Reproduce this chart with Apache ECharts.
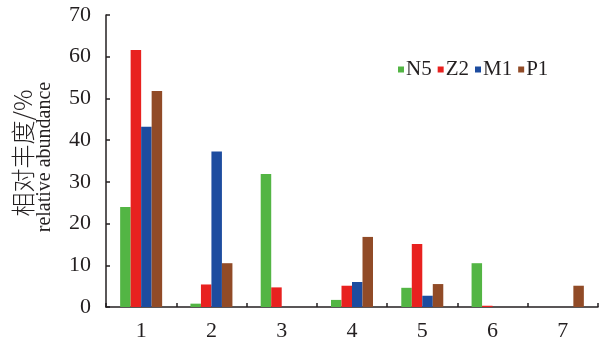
<!DOCTYPE html>
<html><head><meta charset="utf-8">
<script src="https://cdn.jsdelivr.net/npm/echarts@6/dist/echarts.min.js"></script>
<style>html,body{margin:0;padding:0;background:#fff}#c{width:600px;height:344px}</style>
</head><body><div id="c"></div>
<script>
const categories = ['1','2','3','4','5','6','7'];
const seriesNames = ['N5','Z2','M1','P1'];
const N5 = [24.0, 0.8, 31.9, 1.7, 4.6, 10.5, 0];
const Z2 = [61.6, 5.4, 4.7, 5.1, 15.1, 0.3, 0];
const M1 = [43.2, 37.3, 0, 6.0, 2.7, 0, 0];
const P1 = [51.8, 10.5, 0, 16.8, 5.5, 0, 5.1];
const yTicks = [0,10,20,30,40,50,60,70];
const colors = ['#53b544','#e8211f','#1d4c9f','#914b27'];
const dataList = [N5, Z2, M1, P1];

const font = '"Liberation Serif", "Times New Roman", serif';
const chart = echarts.init(document.getElementById('c'));
chart.setOption({
  animation: false,
  textStyle: {fontFamily: font, color: '#231f20'},
  grid: {left: 106, right: 2, top: 15, bottom: 37, containLabel: false},
  legend: {
    left: 393, top: 54, itemWidth: 6, itemHeight: 6, itemGap: 6,
    icon: 'rect',
    textStyle: {fontFamily: font, fontSize: 21, color: '#231f20', padding: [0,0,0,-3]},
    data: seriesNames
  },
  xAxis: {
    type: 'category', data: categories,
    axisLine: {lineStyle: {color: '#231f20', width: 1.5}},
    axisTick: {show: true, inside: true, length: 4, lineStyle: {color: '#231f20', width: 1.5}},
    axisLabel: {fontFamily: font, fontSize: 22, color: '#231f20', margin: 13}
  },
  yAxis: {
    type: 'value', min: yTicks[0], max: yTicks[yTicks.length-1], interval: 10,
    splitLine: {show: false},
    axisLine: {show: true, lineStyle: {color: '#231f20', width: 1.5}},
    axisTick: {show: true, inside: true, length: 4, lineStyle: {color: '#231f20', width: 1.5}},
    axisLabel: {fontFamily: font, fontSize: 22, color: '#231f20', margin: 15}
  },
  graphic: [
    {type: 'text', x: 11, y: 153, rotation: Math.PI/2,
     style: {text: '相对丰度/%', font: '300 24px "Noto Sans CJK SC"', fill: '#231f20', align: 'center', verticalAlign: 'top'}},
    {type: 'text', x: 35, y: 157, rotation: Math.PI/2,
     style: {text: 'relative abundance', font: '20px "Liberation Serif"', fill: '#231f20', align: 'center', verticalAlign: 'top'}}
  ],
  series: seriesNames.map((n, i) => ({
    name: n, type: 'bar', data: dataList[i], barWidth: 10.5,
    barGap: '0%',
    itemStyle: {color: colors[i]}
  }))
});
</script></body></html>
